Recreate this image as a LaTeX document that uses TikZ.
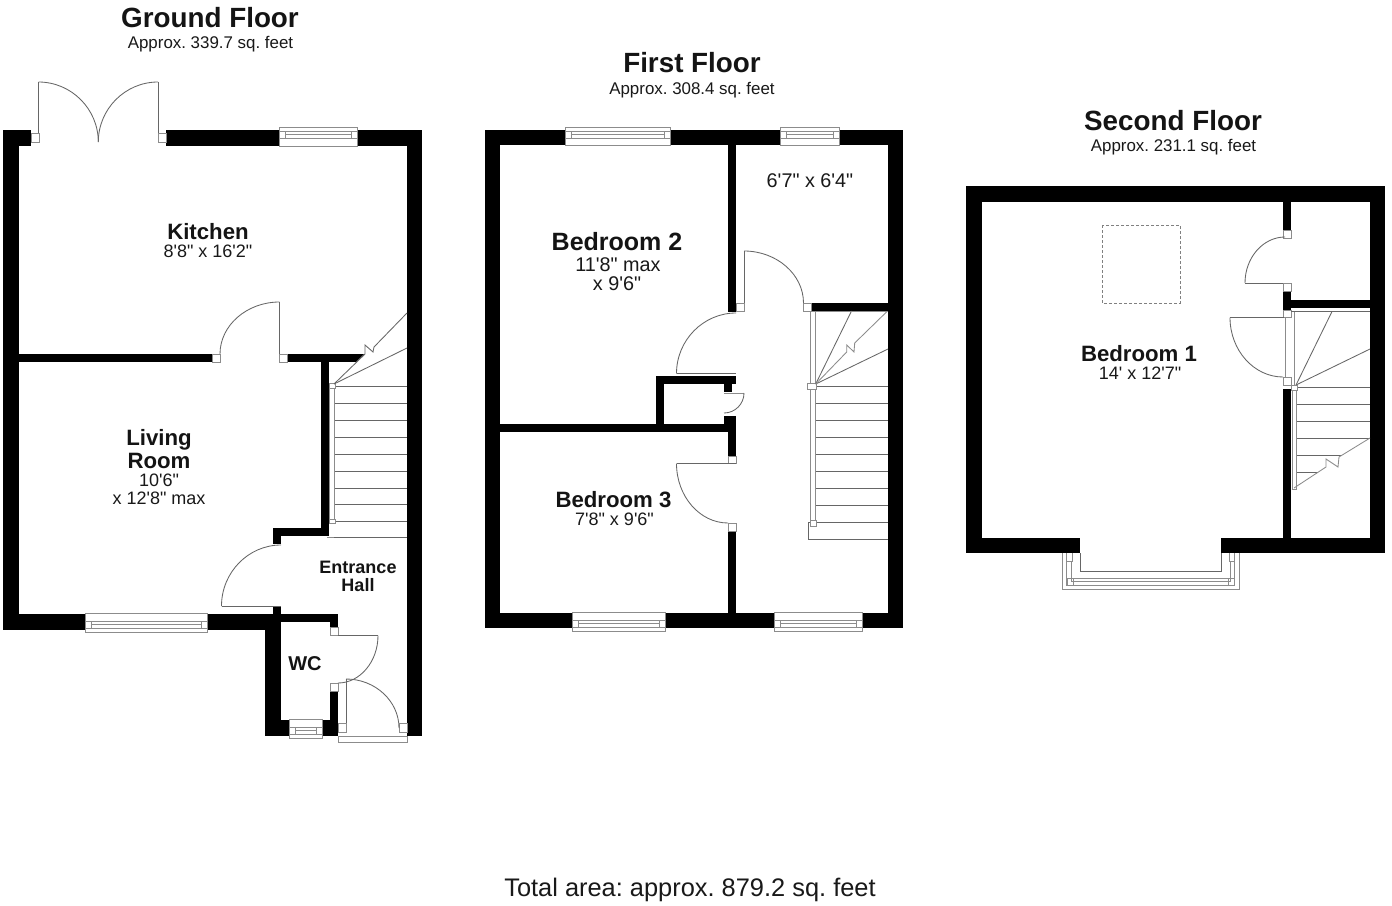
\documentclass[tikz,border=0pt]{standalone}
\usepackage{fontspec}
\newfontfamily\arial{Liberation Sans}
\usetikzlibrary{calc}
\tikzset{
  fine/.style={draw=black!60,line width=0.85pt},
  faint/.style={draw=black!45,line width=0.85pt},
  title/.style={font=\arial\bfseries\fontsize{27.8}{30}\selectfont,text=black!92,inner sep=0pt},
  approx/.style={font=\arial\fontsize{16.9}{18}\selectfont,text=black!90,inner sep=0pt},
  room/.style={font=\arial\bfseries\fontsize{22.2}{24}\selectfont,text=black!92,inner sep=0pt},
  roomb/.style={font=\arial\bfseries\fontsize{25}{26}\selectfont,text=black!92,inner sep=0pt},
  dims/.style={font=\arial\fontsize{18}{19}\selectfont,text=black!90,inner sep=0pt},
  dimsb/.style={font=\arial\fontsize{19.8}{21}\selectfont,text=black!90,inner sep=0pt},
  small/.style={font=\arial\bfseries\fontsize{18}{18}\selectfont,text=black!92,inner sep=0pt,align=center}
}
\newcommand{\wl}[4]{\fill[black] (#1,#2) rectangle (#3,#4);}
\newcommand{\jb}[4]{\draw[faint,fill=white] (#1,#2) rectangle (#3,#4);}
\newcommand{\swing}[6]{\draw[fine] (#1,#2) .. controls ($(#1,#2)!0.55!(#5,#6)$) and ($(#3,#4)!0.55!(#5,#6)$) .. (#3,#4);}
% window with frame on the top side: x1,x2,ytop,ybot
\newcommand{\winT}[4]{
  \fill[white] (#1,#3) rectangle (#2,#4);
  \draw[faint] (#1,#3) rectangle (#2,#4);
  \draw[faint] (#1,#3+4) -- (#2,#3+4);
  \draw[faint] (#1+6,#3+7.5) -- (#2-6,#3+7.5);
  \draw[faint] (#1,#3+11) -- (#2,#3+11);
  \draw[faint] (#1+6,#3+4) -- (#1+6,#3+11);
  \draw[faint] (#2-6,#3+4) -- (#2-6,#3+11);
}
% window with frame on the bottom side: x1,x2,ytop,ybot
\newcommand{\winB}[4]{
  \fill[white] (#1,#3) rectangle (#2,#4);
  \draw[faint] (#1,#3) rectangle (#2,#4);
  \draw[faint] (#1,#4-4) -- (#2,#4-4);
  \draw[faint] (#1+6,#4-7.5) -- (#2-6,#4-7.5);
  \draw[faint] (#1,#4-11) -- (#2,#4-11);
  \draw[faint] (#1+6,#4-4) -- (#1+6,#4-11);
  \draw[faint] (#2-6,#4-4) -- (#2-6,#4-11);
}
\frenchspacing
\begin{document}
\begin{tikzpicture}[x=1pt,y=-1pt]
\useasboundingbox (0,0) rectangle (1392,905);
\fill[white] (0,0) rectangle (1392,905);

%% ===== GROUND FLOOR =====
\wl{3}{130}{31}{146}
\wl{3}{130}{19}{630}
\wl{166}{130}{279}{146}
\wl{357}{130}{422}{146}
\wl{407}{130}{422}{736}
\wl{19}{354}{212}{362}
\wl{287}{354}{355}{362}
\fill[black] (355,354) -- (364,354) -- (356,362) -- (355,362) -- cycle;
\wl{321}{354}{329}{536}
\wl{273}{528}{329}{536}
\wl{273}{528}{281}{544}
\wl{19}{614}{265}{630}
\wl{273}{607}{281}{622}
\wl{265}{614}{281}{736}
\wl{265}{614}{338}{622}
\wl{330}{614}{338}{627}
\wl{330}{691}{338}{736}
\wl{265}{720}{289}{736}
\wl{322}{720}{338}{736}
% french doors
\jb{31}{133}{39}{142}
\jb{158}{133}{166}{142}
\draw[fine] (38.5,82) -- (38.5,133);
\draw[fine] (158,82) -- (158,133);
\swing{38.5}{82}{98.3}{142}{98.3}{82}
\swing{158}{82}{98.3}{142}{98.3}{82}
\winT{279}{357}{127}{146}
% kitchen door
\jb{212}{354}{220}{362}
\jb{279}{354}{287}{362}
\draw[fine] (279.5,302) -- (279.5,354);
\swing{279.5}{302}{220}{354}{220}{302}
% living door
\draw[fine] (221.5,606) -- (281,606);
\swing{281}{545}{221.5}{606}{221.5}{545}
% wc door
\jb{330}{627}{338}{635}
\jb{330}{683}{338}{691}
\draw[fine] (338,635.5) -- (378,635.5);
\swing{378}{635.5}{338}{683}{378}{683}
% entrance door
\draw[faint] (338,736) rectangle (407,742);
\jb{338}{723}{346}{732}
\jb{399}{723}{407}{732}
\draw[fine] (346,679) -- (346,723);
\swing{346}{679}{399}{728}{399}{679}
\winB{85}{207}{613}{632}
\winB{289}{322}{719}{738}
% ground stairs
\foreach \yy in {386,403,420,437,454,471,488,504,521,537} \draw[fine] (334,\yy) -- (407,\yy);
\draw[faint] (327,537) -- (334,537);
\draw[faint] (329.5,386) rectangle (334,522);
\jb{329.5}{383}{335}{388}
\jb{329.5}{519}{335}{523}
\draw[fine] (334,384) -- (407,348);
\draw[fine] (334,384) -- (365,354) -- (365,345) -- (373,352) -- (374,347) -- (407,313);

%% ===== FIRST FLOOR =====
\wl{485}{130}{565}{145}
\wl{485}{130}{500}{628}
\wl{670}{130}{780}{145}
\wl{839}{130}{903}{145}
\wl{888}{130}{903}{628}
\wl{728}{145}{736}{312}
\wl{811}{303}{888}{311}
\wl{656}{376}{736}{384}
\wl{656}{376}{664}{432}
\wl{724}{384}{732}{392}
\wl{724}{416}{736}{432}
\wl{500}{424}{736}{432}
\wl{728}{424}{736}{456}
\wl{728}{531}{736}{613}
\wl{485}{613}{572}{628}
\wl{665}{613}{774}{628}
\wl{862}{613}{903}{628}
\winT{565}{670}{127}{145}
\winT{780}{839}{127}{145}
\winB{572}{665}{612}{631}
\winB{774}{862}{612}{631}
% box-room door
\jb{736}{303}{744}{311}
\jb{803}{303}{811}{311}
\draw[fine] (744,251) -- (744,303);
\swing{744}{251}{803.5}{303}{803.5}{251}
% bedroom 2 door
\draw[fine] (676.5,373.5) -- (736,373.5);
\swing{736}{313}{676.5}{373.5}{676.5}{313}
% cupboard door
\draw[faint] (724,393) -- (744,393);
\swing{744}{393}{724}{413}{744}{413}
% bedroom 3 door
\jb{728}{456}{736}{463}
\jb{728}{523}{736}{531}
\draw[fine] (676.5,463.5) -- (736,463.5);
\swing{676.5}{463.5}{728}{523}{676.5}{523}
% first stairs
\foreach \yy in {386,403,420,437,454,471,488,505,522,539} \draw[fine] (815,\yy) -- (888,\yy);
\draw[fine] (808,522) -- (808,539) -- (815,539);
\draw[fine] (808,522) -- (815,522);
\draw[faint] (810.5,311) rectangle (815,522);
\jb{807.5}{383}{816}{389}
\jb{810}{520}{816}{526}
\draw[fine] (815.7,384) -- (851.5,311);
\draw[fine] (815.7,384) -- (888,349);
\draw[faint] (815.7,384) -- (846.7,352) -- (846.7,345) -- (854,352) -- (854.7,343) -- (887,311.5);
\draw[faint] (815,311.5) -- (888,311.5);

%% ===== SECOND FLOOR =====
\wl{966}{186}{1385}{202}
\wl{966}{186}{982}{553}
\wl{1370}{186}{1385}{553}
\wl{966}{538}{1080}{553}
\wl{1221}{538}{1385}{553}
\wl{1283}{202}{1291}{230}
\wl{1283}{291}{1291}{310}
\wl{1291}{300}{1370}{308}
\wl{1283}{389}{1291}{538}
% bay window
\draw[fine] (1080,553) -- (1080,571) -- (1221,571) -- (1221,553);
\draw[faint] (1062,553) -- (1062,589) -- (1239,589) -- (1239,553);
\draw[faint] (1066.5,553) -- (1066.5,585) -- (1234.5,585) -- (1234.5,553);
\draw[faint] (1071,561) -- (1071,581.5) -- (1230,581.5) -- (1230,561);
\draw[faint] (1069,578) -- (1232,578);
\draw[faint] (1072,553) -- (1072,561) -- (1067,561);
\draw[faint] (1229,553) -- (1229,561) -- (1234,561);
\draw[faint] (1067,578) rectangle (1073,585);
\draw[faint] (1228,578) rectangle (1234,585);
% skylight
\draw[black!50,line width=0.6pt,densely dashed] (1102,225) rectangle (1180,303);
% cupboard door
\jb{1283}{230}{1291}{238}
\jb{1283}{283}{1291}{291}
\draw[fine] (1245,283) -- (1283,283);
\swing{1245}{283}{1285}{237}{1245}{237}
% bedroom 1 door
\jb{1283}{310}{1291}{317}
\jb{1283}{377}{1291}{385}
\draw[fine] (1230,317.5) -- (1284,317.5);
\swing{1230}{317.5}{1283}{377}{1230}{377}
\draw[faint] (1285.5,317) -- (1285.5,377);
\draw[faint] (1294,311) -- (1294,385);
% second stairs
\draw[fine] (1291,311.5) -- (1370,311.5);
\foreach \yy in {387,404,421,438} \draw[fine] (1296,\yy) -- (1370,\yy);
\draw[fine] (1296,455) -- (1342,455);
\draw[fine] (1296,472) -- (1318,472);
\draw[faint] (1292,389) rectangle (1296,489);
\jb{1291}{385}{1297}{390}
\draw[fine] (1296,385) -- (1332,311.5);
\draw[fine] (1296,385) -- (1370,349);
\draw[faint] (1294,488) -- (1326,467) -- (1326,459) -- (1338,467) -- (1339,457) -- (1370,438);

%% ===== TEXT =====
\node[title] (tg) at (210,18) {Ground Floor};
\node[approx] (ag) at (210.5,44.5) {Approx. 339.7 sq. feet};
\node[title] (tf) at (692,63) {First Floor};
\node[approx] (af) at (692,90) {Approx. 308.4 sq. feet};
\node[title] (ts) at (1173,121) {Second Floor};
\node[approx] (as) at (1173.5,147.5) {Approx. 231.1 sq. feet};
\node[room] (kit) at (208,231.5) {Kitchen};
\node[dims] (kitd) at (208,251) {8'8" x 16'2"};
\node[room] (liv1) at (159,440) {Living};
\node[room] (liv2) at (159,461) {Room};
\node[dims] (livd1) at (159,480) {10'6"};
\node[dims] (livd2) at (159,498) {x 12'8" max};
\node[small] (eh1) at (358,567) {Entrance};
\node[small] (eh2) at (358,585) {Hall};
\node[room,font=\arial\bfseries\fontsize{20}{22}\selectfont] (wc) at (305,664) {WC};
\node[roomb] (b2) at (617,242) {Bedroom 2};
\node[dimsb] (b2d1) at (618,264.5) {11'8" max};
\node[dimsb] (b2d2) at (617,283.5) {x 9'6"};
\node[dimsb] (bx) at (810,180.5) {6'7" x 6'4"};
\node[room] (b3) at (613.5,500) {Bedroom 3};
\node[dims] (b3d) at (614.5,519.5) {7'8" x 9'6"};
\node[room] (b1) at (1139,353.5) {Bedroom 1};
\node[dims] (b1d) at (1140,373) {14' x 12'7"};
\node[inner sep=0pt,font=\arial\fontsize{25.4}{27}\selectfont,text=black!90] (tot) at (690,889.5) {Total area: approx. 879.2 sq. feet};
\end{tikzpicture}
\end{document}
